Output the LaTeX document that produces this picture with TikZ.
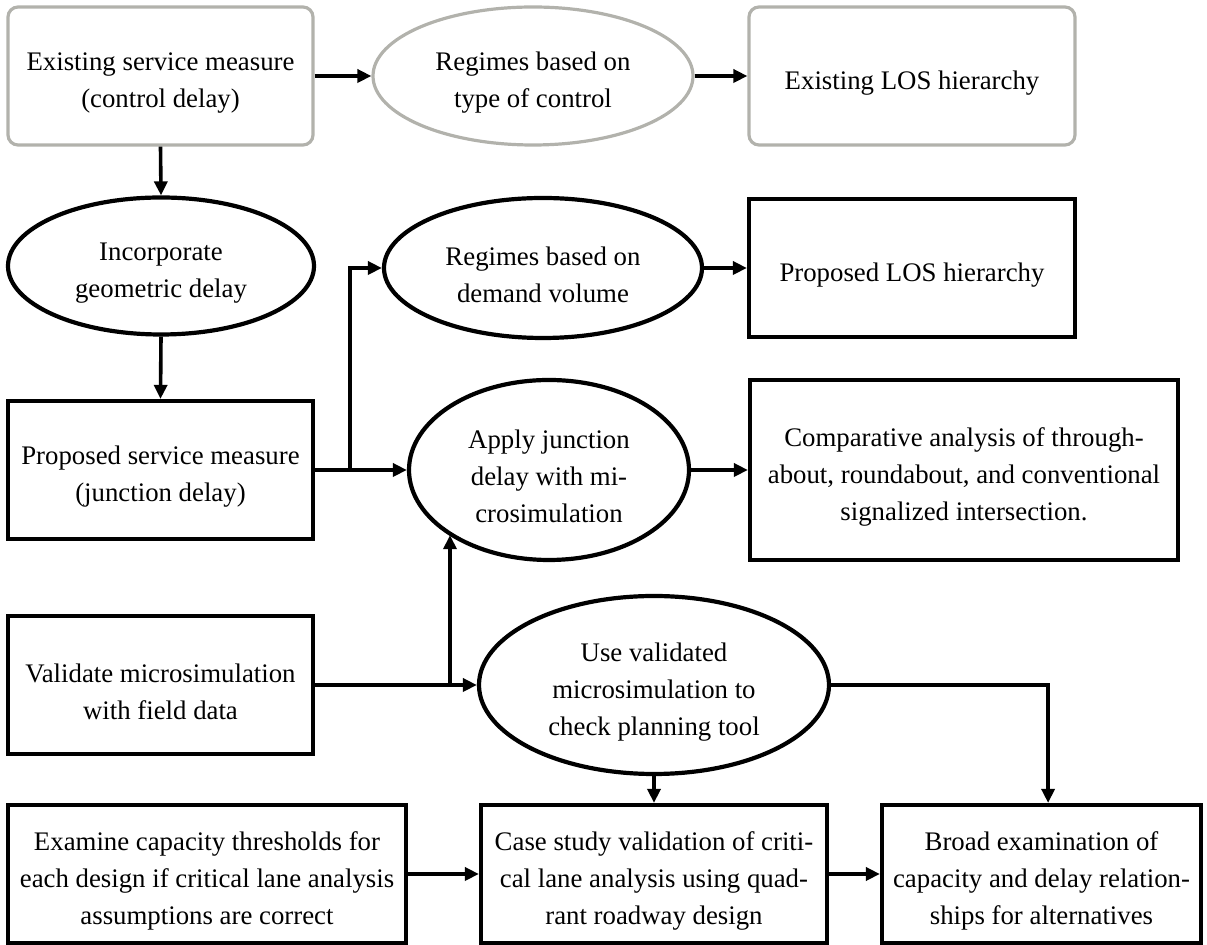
\documentclass[tikz,border=0pt]{standalone}
\usepackage{fontspec}
\setmainfont{Liberation Serif}
\usetikzlibrary{arrows.meta,shapes.geometric}
\definecolor{boxgray}{RGB}{178,178,172}
\newcommand{\firstl}{\rule{0pt}{16pt}}
\tikzset{
  base/.style={align=center,inner sep=0pt,font=\fontsize{13.4}{18.5}\selectfont},
  graybox/.style={base,draw=boxgray,line width=1.6pt,rounded corners=5pt,rectangle},
  grayell/.style={base,draw=boxgray,line width=1.6pt,ellipse},
  blackbox/.style={base,draw=black,line width=2.1pt,rectangle},
  blackell/.style={base,draw=black,line width=2.1pt,ellipse},
  conn/.style={line width=1.8pt,-{Triangle[length=7pt,width=6.5pt]}}
}
\begin{document}
\begin{tikzpicture}[x=0.5pt,y=-0.5pt]
\useasboundingbox (0,0) rectangle (1207,945);
% row 1
\node[graybox,minimum width=152.5pt,minimum height=69pt] (b1) at (160.5,76) {\firstl Existing service measure\\(control delay)};
\node[grayell,minimum width=160pt,minimum height=69pt] (e2) at (533,76) {\firstl Regimes based on\\type of control};
\node[graybox,minimum width=163pt,minimum height=69pt] (b3) at (912,76) {\firstl Existing LOS hierarchy};
% row 2
\node[blackell,minimum width=153pt,minimum height=68.5pt] (e4) at (161,266) {\firstl Incorporate\\geometric delay};
\node[blackell,minimum width=159pt,minimum height=70pt] (e6) at (543,268) {\firstl Regimes based on\\demand volume};
\node[blackbox,minimum width=163pt,minimum height=69pt] (b7) at (912,268) {\firstl Proposed LOS hierarchy};
% row 3
\node[blackbox,minimum width=152.5pt,minimum height=69pt] (b5) at (160.5,470) {\firstl Proposed service measure\\(junction delay)};
\node[blackell,minimum width=140pt,minimum height=90pt] (e8) at (549,470) {\firstl Apply junction\\delay with mi-\\crosimulation};
\node[blackbox,minimum width=214pt,minimum height=90pt] (b9) at (964,470) {\firstl Comparative analysis of through-\\about, roundabout, and conventional\\signalized intersection.};
% row 4
\node[blackbox,minimum width=152.5pt,minimum height=69pt] (b10) at (160.5,685) {\firstl Validate microsimulation\\with field data};
\node[blackell,minimum width=175pt,minimum height=89pt] (e11) at (654,685) {\firstl Use validated\\microsimulation to\\check planning tool};
% row 5
\node[blackbox,minimum width=199pt,minimum height=69pt] (b13) at (207,874) {\firstl Examine capacity thresholds for\\each design if critical lane analysis\\assumptions are correct};
\node[blackbox,minimum width=173pt,minimum height=69pt] (b12) at (654,874) {\firstl Case study validation of criti-\\cal lane analysis using quad-\\rant roadway design};
\node[blackbox,minimum width=159.5pt,minimum height=69pt] (b14) at (1041.5,874) {\firstl Broad examination of\\capacity and delay relation-\\ships for alternatives};
% junction points
\coordinate (j1) at (350,470);
\coordinate (j2) at (450,685);
% connectors
\draw[conn] (b1) -- (e2);
\draw[conn] (e2) -- (b3);
\draw[conn] (b1.south) -- (e4.north);
\draw[conn] (e4.south) -- (b5.north);
\draw[conn] (b5.east) -- (e8.west);
\draw[conn] (j1) |- (e6.west);
\draw[conn] (e6.east) -- (b7.west);
\draw[conn] (e8.east) -- (b9.west);
\draw[conn] (b10.east) -- (e11.west);
\draw[conn] (j2) -- (j2 |- e8.213);
\draw[conn] (e11.south) -- (b12.north);
\draw[conn] (e11.east) -| ([xshift=3.3pt]b14.north);
\draw[conn] (b13.east) -- (b12.west);
\draw[conn] (b12.east) -- (b14.west);
\end{tikzpicture}
\end{document}
